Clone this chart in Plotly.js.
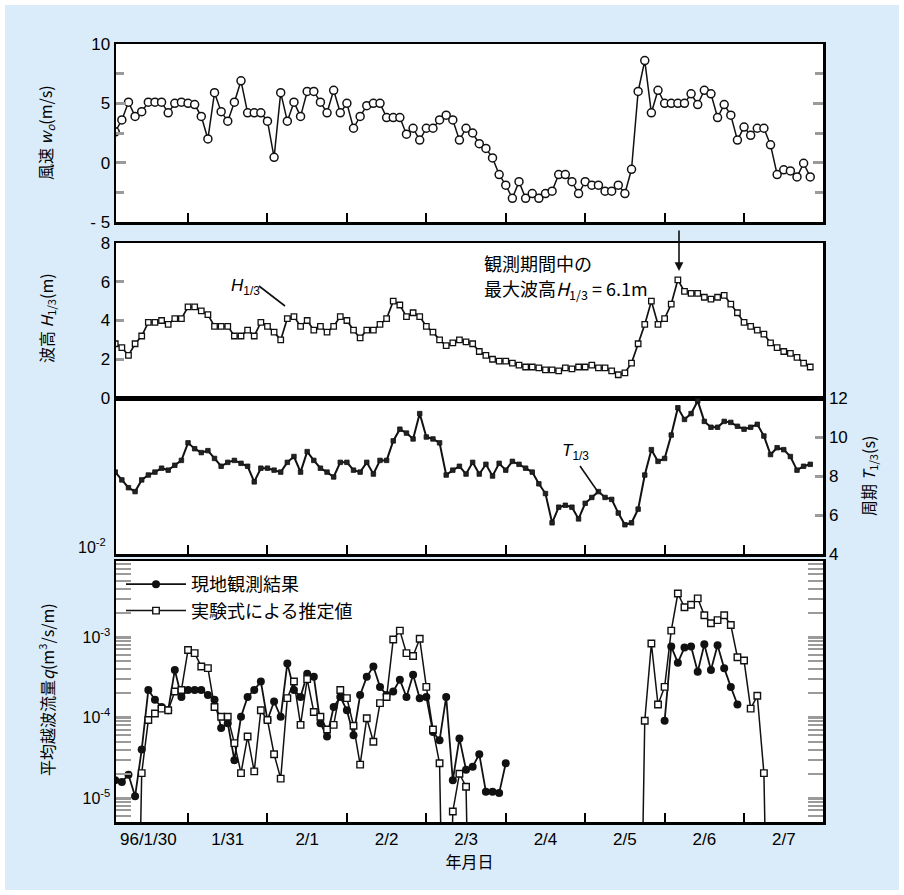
<!DOCTYPE html>
<html>
<head>
<meta charset="utf-8">
<script src="https://cdn.plot.ly/plotly-3.0.1.min.js"></script>
<style>html,body{margin:0;padding:0;background:#fff;}#chart{width:904px;height:895px;}</style>
</head>
<body>
<div id="chart"></div>
<script>
// ---- data: 2-hourly observations starting 96/1/30 02:00 (sample index 1..106) ----
const sampleIndex = Array.from({length: 106}, (_, k) => k + 1);
const hoursPerSample = 2;

const windSpeed = [2.6,3.6,5.1,3.9,4.3,5.1,5.1,5.1,4.2,5.0,5.1,5.0,4.9,3.9,2.0,5.9,4.3,3.5,5.1,6.9,
  4.2,4.2,4.2,3.5,0.45,5.9,3.5,5.1,3.9,6.0,6.0,5.1,4.2,6.1,4.2,5.0,2.9,3.9,4.8,5.0,
  5.0,3.8,3.8,3.8,2.4,2.9,1.9,2.9,2.9,3.6,4.0,3.6,1.9,2.9,2.5,1.6,1.2,0.4,-1.0,-1.9,
  -3.0,-1.6,-3.0,-2.6,-3.0,-2.6,-2.4,-1.0,-1.0,-1.6,-2.6,-1.6,-1.9,-1.9,-2.4,-2.4,-1.9,-2.6,-0.56,6.0,
  8.6,4.2,6.1,5.0,5.0,5.0,5.0,5.8,4.9,6.1,5.8,3.8,4.9,4.0,1.9,3.0,2.3,2.9,2.9,1.5,
  -1.0,-0.6,-0.7,-1.2,-0.05,-1.2];

const waveHeight = [2.8,2.6,2.2,2.8,3.2,3.9,3.9,4.0,3.8,4.1,4.1,4.7,4.7,4.5,4.3,3.7,3.7,3.7,3.2,3.2,
  3.5,3.2,3.9,3.7,3.4,3.0,4.1,4.2,3.7,4.0,3.5,3.7,3.4,3.7,4.2,4.0,3.5,3.1,3.5,3.5,
  3.8,4.1,5.0,4.8,4.2,4.4,4.2,3.7,3.4,3.0,2.7,2.85,3.0,2.9,2.8,2.4,2.2,2.0,1.9,1.9,
  1.8,1.7,1.6,1.6,1.55,1.45,1.45,1.4,1.55,1.5,1.6,1.6,1.7,1.55,1.55,1.4,1.2,1.3,1.8,2.8,
  3.8,5.0,3.8,4.1,4.85,6.1,5.5,5.4,5.4,5.2,5.1,5.2,5.3,4.85,4.4,3.9,3.7,3.5,3.3,2.85,
  2.6,2.4,2.3,2.1,1.8,1.6];

const wavePeriod = [8.2,7.8,7.4,7.2,7.8,8.05,8.2,8.4,8.3,8.55,8.8,9.7,9.4,9.2,9.3,8.9,8.5,8.7,8.8,8.65,
  8.5,7.7,8.4,8.4,8.3,8.2,8.7,9.0,8.2,9.25,8.8,8.4,8.2,7.95,8.7,8.7,8.3,8.2,8.7,8.1,
  8.8,8.8,9.8,10.4,10.2,9.9,11.2,10.0,9.9,9.7,8.05,8.3,8.5,8.1,8.7,8.1,8.6,8.0,8.65,8.3,
  8.75,8.6,8.4,8.2,7.6,7.1,5.6,6.4,6.5,6.4,5.8,6.6,6.9,7.2,6.9,6.8,6.1,5.5,5.6,6.3,
  8.05,9.35,8.75,8.9,10.1,11.5,10.9,11.2,11.85,10.8,10.5,10.5,10.8,10.75,10.55,10.4,10.5,10.65,10.05,9.1,
  9.45,9.35,9.0,8.3,8.5,8.6];

// mean overtopping rate q (m3/s/m); null = no value; 1e-9 = below the plotted range
const qObserved = [1.66e-5,1.58e-5,1.95e-5,1.05e-5,4.0e-5,2.2e-4,1.66e-4,1.35e-4,1.23e-4,3.9e-4,
  1.8e-4,2.2e-4,2.2e-4,2.2e-4,1.9e-4,1.66e-4,7.4e-5,8.5e-5,2.95e-5,1.02e-4,
  1.8e-4,2.2e-4,2.8e-4,9.3e-5,1.58e-4,1.02e-4,4.7e-4,2.2e-4,1.8e-4,3.5e-4,
  3.2e-4,8.5e-5,5.8e-5,1.35e-4,1.8e-4,1.23e-4,6.0e-5,1.9e-4,3.2e-4,4.3e-4,
  2.4e-4,1.9e-4,2.1e-4,2.95e-4,1.8e-4,3.4e-4,1.74e-4,1.8e-4,6.6e-5,5.2e-5,
  1.8e-4,1.66e-5,5.5e-5,2.24e-5,2.45e-5,3.5e-5,1.2e-5,1.2e-5,1.15e-5,2.7e-5,
  null,null,null,null,null,null,null,null,null,null,
  null,null,null,null,null,null,null,null,null,null,
  null,null,null,9.1e-5,7.6e-4,4.8e-4,7.4e-4,7.6e-4,3.7e-4,8.1e-4,
  3.9e-4,7.9e-4,4.1e-4,2.4e-4,1.45e-4,null,null,null,null,null,
  null,null,null,null,null,null];

const qEstimated = [null,null,null,1e-9,2.04e-5,9.3e-5,1.12e-4,1.29e-4,1.23e-4,2.1e-4,
  2.2e-4,6.9e-4,6.3e-4,4.3e-4,4.1e-4,1.35e-4,1.02e-4,1.02e-4,4.8e-5,2.04e-5,
  5.8e-5,2.14e-5,1.23e-4,9.3e-5,3.5e-5,1.74e-5,1.74e-4,2.8e-4,8.1e-5,3.0e-4,
  1.17e-4,1.02e-4,7.1e-5,8.1e-5,2.2e-4,1.74e-4,7.9e-5,2.6e-5,9.8e-5,5.0e-5,
  1.51e-4,1.8e-4,9.3e-4,1.2e-3,6.3e-4,5.8e-4,9.5e-4,2.4e-4,7.1e-5,2.7e-5,
  1e-9,6.8e-6,2.0e-5,1.38e-5,1e-9,null,null,null,null,null,
  null,null,null,null,null,null,null,null,null,null,
  null,null,null,null,null,null,null,null,null,1e-9,
  9.1e-5,8.3e-4,1.45e-4,2.4e-4,1.2e-3,3.47e-3,2.34e-3,2.51e-3,3.02e-3,1.86e-3,
  1.48e-3,1.62e-3,1.86e-3,1.41e-3,5.6e-4,5.1e-4,1.29e-4,1.86e-4,2.04e-5,1e-9,
  null,null,null,null,null,null];

const dayLabels = ['96/1/30','1/31','2/1','2/2','2/3','2/4','2/5','2/6','2/7'];
const seriesNames = ['現地観測結果','実験式による推定値'];

// ---- geometry helpers ----
const W = 904, H = 895;
const M = {l: 116, r: 81, t: 44, b: 73};
const PW = W - M.l - M.r, PH = H - M.t - M.b;
const px = x => (x - M.l) / PW;
const py = y => (H - M.b - y) / PH;

const tDays = sampleIndex.map(i => i * hoursPerSample / 24);
const dayStarts = dayLabels.map((_, k) => k).filter(k => k > 0);
const dayMids = dayLabels.map((_, k) => k + 0.5);
const xRange = [0.093, 8.994];

const JP = '"Noto Sans CJK JP", "Noto Sans", sans-serif';
const LAT = '"Liberation Sans", Arial, sans-serif';
const GRAY = '#9a9a9a';

const traces = [
  {x: tDays, y: windSpeed, xaxis: 'x', yaxis: 'y', mode: 'lines+markers', showlegend: false,
   line: {color: '#111', width: 1.5},
   marker: {symbol: 'circle', size: 8, color: '#fff', line: {color: '#111', width: 1.5}}},
  {x: tDays, y: waveHeight, xaxis: 'x2', yaxis: 'y2', mode: 'lines+markers', showlegend: false,
   line: {color: '#111', width: 1.7},
   marker: {symbol: 'square', size: 5.5, color: '#fff', line: {color: '#111', width: 1.3}}},
  {x: tDays, y: wavePeriod, xaxis: 'x3', yaxis: 'y3', mode: 'lines+markers', showlegend: false,
   line: {color: '#111', width: 2},
   marker: {symbol: 'square', size: 4.5, color: '#222', line: {color: '#111', width: 0.8}}},
  {x: tDays, y: qObserved, xaxis: 'x4', yaxis: 'y4', mode: 'lines+markers', name: seriesNames[0],
   connectgaps: false, line: {color: '#111', width: 1.8},
   marker: {symbol: 'circle', size: 8, color: '#111'}},
  {x: tDays, y: qEstimated, xaxis: 'x5', yaxis: 'y4', mode: 'lines+markers', name: seriesNames[1],
   connectgaps: false, line: {color: '#111', width: 1.5},
   marker: {symbol: 'square', size: 6.5, color: '#fff', line: {color: '#111', width: 1.4}}}
];

function frameX(anchor, withTicks) {
  return {
    anchor: anchor, domain: [0, 1], range: xRange, showgrid: false, zeroline: false,
    showline: true, mirror: true, linecolor: '#000', linewidth: 2.5,
    tickmode: 'array', tickvals: withTicks ? dayStarts : [], ticks: withTicks ? 'inside' : '',
    ticklen: 9, tickwidth: 2, tickcolor: '#000', showticklabels: false
  };
}

const minorLog = [];
for (let e = -6; e <= -3; e++) for (let d = 2; d <= 9; d++) minorLog.push(d * Math.pow(10, e));

function note(x, y, text, font, extra) {
  return Object.assign({xref: 'paper', yref: 'paper', x: px(x), y: py(y), text: text,
    showarrow: false, xanchor: 'center', yanchor: 'middle', font: font}, extra || {});
}

const layout = {
  width: W, height: H, autosize: false, margin: M,
  paper_bgcolor: '#daecf9', plot_bgcolor: '#ffffff',
  font: {family: LAT, size: 17, color: '#000'},
  showlegend: true,
  legend: {x: px(121), y: py(566), xanchor: 'left', yanchor: 'top', bgcolor: 'rgba(0,0,0,0)',
           font: {family: JP, size: 18, color: '#000'}, itemwidth: 60, tracegroupgap: 0},
  xaxis: frameX('y', true),
  xaxis2: frameX('y2', false),
  xaxis3: frameX('y3', true),
  // bottom panel: date labels at the middle of each day
  xaxis4: Object.assign(frameX('y4', false), {
    tickvals: dayMids, ticktext: dayLabels, ticks: '', showticklabels: true,
    tickfont: {family: LAT, size: 17},
    title: {text: '年月日', font: {family: JP, size: 16}, standoff: 6}
  }),
  // overlaid twin of the bottom axis: day-boundary ticks
  xaxis5: {overlaying: 'x4', anchor: 'y4', side: 'bottom', range: xRange, showgrid: false, zeroline: false,
    showline: false, tickmode: 'array', tickvals: dayStarts, ticks: 'inside', ticklen: 9, tickwidth: 2,
    tickcolor: '#000', showticklabels: false},
  yaxis: {anchor: 'x', domain: [py(222), py(44)], range: [-5, 10], showgrid: false, zeroline: false,
    showline: true, mirror: 'allticks', linecolor: '#000', linewidth: 2.5,
    tickmode: 'array', tickvals: [-5, 0, 5, 10], ticktext: ['- 5', '0', '5', '10'],
    ticks: 'inside', ticklen: 10, tickwidth: 3, tickcolor: GRAY,
    minor: {tickmode: 'array', tickvals: [-2.5, 2.5, 7.5], ticks: 'inside', ticklen: 8, tickwidth: 3, tickcolor: GRAY},
    tickfont: {family: LAT, size: 17}},
  yaxis2: {anchor: 'x2', domain: [py(398), py(243)], range: [0, 8], showgrid: false, zeroline: false,
    showline: true, mirror: true, linecolor: '#000', linewidth: 2.5,
    tickmode: 'array', tickvals: [0, 2, 4, 6, 8], ticks: 'inside', ticklen: 8, tickwidth: 3, tickcolor: GRAY,
    tickfont: {family: LAT, size: 17}},
  yaxis3: {anchor: 'x3', domain: [py(554), py(398)], range: [4, 12], side: 'right', showgrid: false, zeroline: false,
    showline: true, mirror: true, linecolor: '#000', linewidth: 2.5,
    tickmode: 'array', tickvals: [4, 6, 8, 10, 12], ticks: 'inside', ticklen: 8, tickwidth: 3, tickcolor: GRAY,
    tickfont: {family: LAT, size: 17}},
  yaxis4: {anchor: 'x4', domain: [py(822), py(561)], type: 'log', range: [-5.298, -2.056],
    showgrid: false, zeroline: false, showline: true, mirror: 'allticks', linecolor: '#000', linewidth: 2.5,
    tickmode: 'array', tickvals: [1e-5, 1e-4, 1e-3],
    ticktext: ['10<sup>-5</sup>', '10<sup>-4</sup>', '10<sup>-3</sup>'],
    ticks: 'inside', ticklen: 15, tickwidth: 3, tickcolor: GRAY,
    minor: {tickmode: 'array', tickvals: minorLog, ticks: 'inside', ticklen: 6, tickwidth: 2, tickcolor: GRAY},
    tickfont: {family: LAT, size: 16}},
  shapes: [
    {type: 'line', xref: 'paper', yref: 'paper', x0: px(259), y0: py(286), x1: px(285), y1: py(306),
     line: {color: '#111', width: 1.6}},
    {type: 'line', xref: 'paper', yref: 'paper', x0: px(580), y0: py(466), x1: px(598), y1: py(492),
     line: {color: '#111', width: 1.6}},
    {type: 'rect', xref: 'paper', yref: 'paper', layer: 'above',
     x0: px(0), x1: px(W), y0: py(H), y1: py(0), line: {color: '#ffffff', width: 10}}
  ],
  annotations: [
    note(46, 133, '風速 <i>w</i><sub><i>o</i></sub>(m/s)', {family: JP, size: 16}, {textangle: -90}),
    note(46, 318, '波高 <i>H</i><sub>1/3</sub>(m)', {family: JP, size: 16}, {textangle: -90}),
    note(46, 690, '平均越波流量<i>q</i>(m<sup>3</sup>/s/m)', {family: JP, size: 16}, {textangle: -90}),
    note(869, 476, '周期 <i>T</i><sub>1/3</sub>(s)', {family: JP, size: 16}, {textangle: -90}),
    note(108, 546, '10<sup>-2</sup>', {family: LAT, size: 16}, {xanchor: 'right'}),
    note(229, 287, '<i>H</i><sub>1/3</sub>', {family: LAT, size: 17}, {xanchor: 'left'}),
    note(560, 452, '<i>T</i><sub>1/3</sub>', {family: LAT, size: 17}, {xanchor: 'left'}),
    note(482, 263, '観測期間中の', {family: JP, size: 18}, {xanchor: 'left'}),
    note(482, 289, '最大波高<i>H</i><sub>1/3</sub> = 6.1m', {family: JP, size: 18}, {xanchor: 'left'}),
    {xref: 'paper', yref: 'paper', x: px(679), y: py(271), ax: 0, ay: -42, showarrow: true, text: '',
     arrowhead: 2, arrowsize: 1.1, arrowwidth: 1.6, arrowcolor: '#111'}
  ]
};

Plotly.newPlot('chart', traces, layout, {staticPlot: true, displayModeBar: false});
</script>
</body>
</html>
